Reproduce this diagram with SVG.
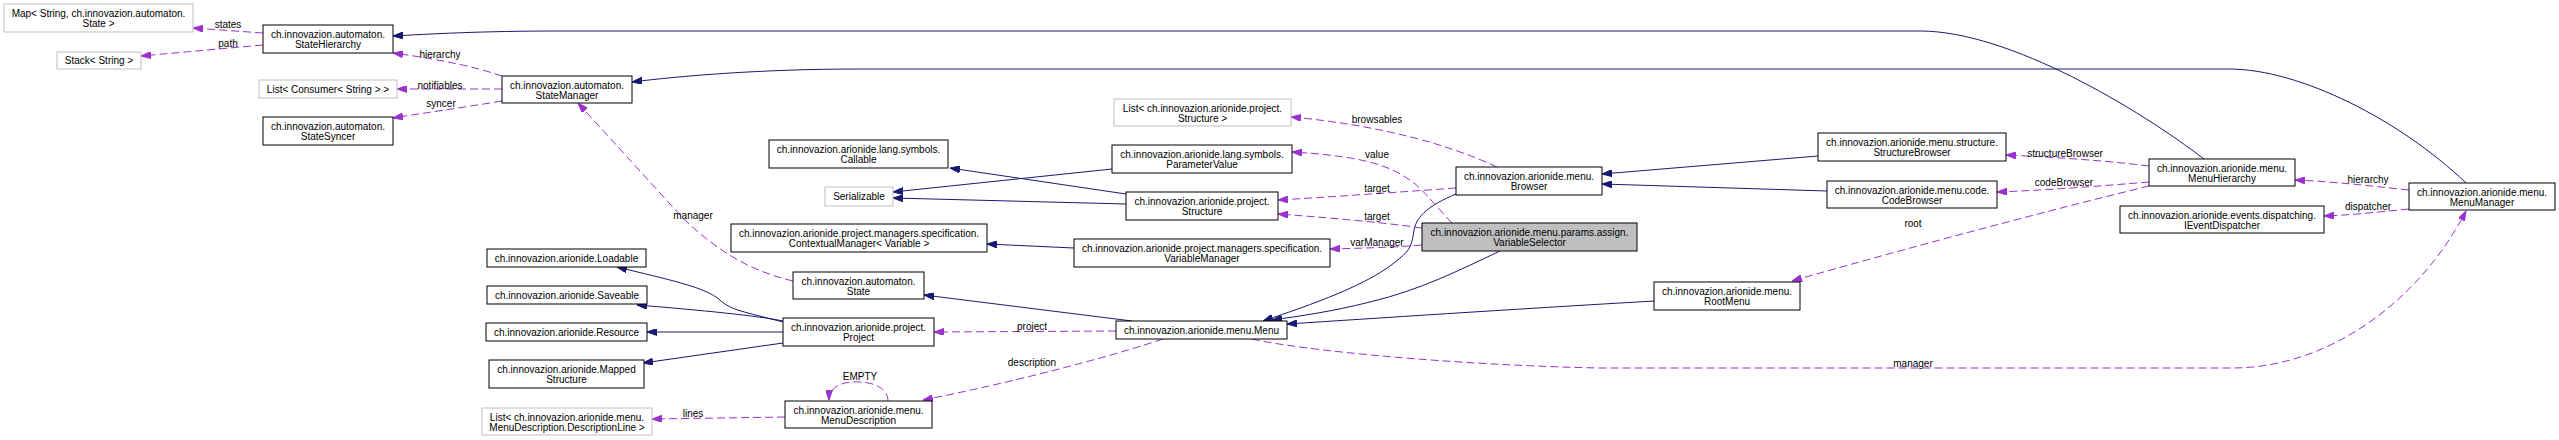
<svg xmlns="http://www.w3.org/2000/svg" width="2559" height="440" viewBox="0 0 2559 440">
<style>
.nd rect{fill:#fff;stroke:#000;stroke-width:1}
.gy rect{fill:#fff;stroke:#bfbfbf;stroke-width:1}
.cur rect{fill:#bfbfbf;stroke:#000;stroke-width:1}
text{font-family:"Liberation Sans",Arial,sans-serif;font-size:10px;fill:#000;text-anchor:middle}
.inh{fill:none;stroke:#191970;stroke-width:1}
.use{fill:none;stroke:#9a32cd;stroke-width:1;stroke-dasharray:8,4}
</style>
<defs>
<marker id="an" viewBox="0 0 10 7" refX="10" refY="3.5" markerWidth="10" markerHeight="7" markerUnits="userSpaceOnUse" orient="auto"><path d="M0,0 L10,3.5 L0,7 z" fill="#191970" stroke="#191970"/></marker>
<marker id="ap" viewBox="0 0 10 7" refX="10" refY="3.5" markerWidth="10" markerHeight="7" markerUnits="userSpaceOnUse" orient="auto"><path d="M0,0 L10,3.5 L0,7 z" fill="#9a32cd" stroke="#9a32cd"/></marker>
</defs>
<rect width="2559" height="440" fill="#fff"/>
<g id="edges">
<path class="inh" marker-end="url(#an)" d="M2204,159 C2140,110 2010,31 1920,31 L560,31 C480,31 430,34 393,36"/>
<path class="inh" marker-end="url(#an)" d="M2466,183 C2400,120 2300,69 2229,69 L860,69 C760,69 680,76 632,82"/>
<path class="inh" marker-end="url(#an)" d="M1126,194 L950,168"/>
<path class="inh" marker-end="url(#an)" d="M1112,169 L893,192"/>
<path class="inh" marker-end="url(#an)" d="M1126,204 L893,198"/>
<path class="inh" marker-end="url(#an)" d="M1074,248 L987,244"/>
<path class="inh" marker-end="url(#an)" d="M1132,321 L924,295"/>
<path class="inh" marker-end="url(#an)" d="M783,322 C745,312 730,310 720,300 C705,287 670,280 617,267"/>
<path class="inh" marker-end="url(#an)" d="M783,321 C760,316 700,310 637,305"/>
<path class="inh" marker-end="url(#an)" d="M783,332 L647,332"/>
<path class="inh" marker-end="url(#an)" d="M783,343 L643,363"/>
<path class="inh" marker-end="url(#an)" d="M1456,194 C1430,205 1417,215 1414,230 C1412,245 1410,250 1400,258 C1370,285 1310,305 1263,321"/>
<path class="inh" marker-end="url(#an)" d="M1500,251 C1460,270 1420,290 1370,302 C1330,312 1300,316 1272,320"/>
<path class="inh" marker-end="url(#an)" d="M1654,301 C1500,310 1380,318 1287,324"/>
<path class="inh" marker-end="url(#an)" d="M1818,156 L1602,174"/>
<path class="inh" marker-end="url(#an)" d="M1827,191 L1602,184"/>
<path class="use" marker-end="url(#ap)" d="M263,33 L193,28"/>
<path class="use" marker-end="url(#ap)" d="M263,45 L141,56"/>
<path class="use" marker-end="url(#ap)" d="M502,76 C470,65 430,58 393,53"/>
<path class="use" marker-end="url(#ap)" d="M502,89 L397,89"/>
<path class="use" marker-end="url(#ap)" d="M502,101 C460,108 430,112 393,118"/>
<path class="use" marker-end="url(#ap)" d="M793,281 C745,270 710,245 680,215 L578,103"/>
<path class="use" marker-end="url(#ap)" d="M1497,167 C1450,145 1380,125 1291,117"/>
<path class="use" marker-end="url(#ap)" d="M1452,223 C1430,200 1420,185 1405,177 C1380,160 1340,155 1292,152"/>
<path class="use" marker-end="url(#ap)" d="M1456,188 C1400,192 1330,197 1278,200"/>
<path class="use" marker-end="url(#ap)" d="M1422,228 C1380,222 1320,217 1278,214"/>
<path class="use" marker-end="url(#ap)" d="M1422,245 C1400,247 1370,248 1330,249"/>
<path class="use" marker-end="url(#ap)" d="M1116,331 L934,332"/>
<path class="use" marker-end="url(#ap)" d="M1163,339 C1100,360 1000,385 923,400"/>
<path class="use" marker-end="url(#ap)" d="M888,401 C888,392 880,383 860,382 C840,381 829,388 829,400"/>
<path class="use" marker-end="url(#ap)" d="M785,417 L652,419"/>
<path class="use" marker-end="url(#ap)" d="M1252,339 C1300,350 1450,365 1600,368 L2232,368 C2330,368 2420,300 2466,211"/>
<path class="use" marker-end="url(#ap)" d="M2149,166 C2100,160 2050,157 2006,155"/>
<path class="use" marker-end="url(#ap)" d="M2149,182 C2100,186 2050,190 1997,192"/>
<path class="use" marker-end="url(#ap)" d="M2149,186 C2050,210 1900,250 1792,281"/>
<path class="use" marker-end="url(#ap)" d="M2409,190 C2370,186 2340,182 2295,180"/>
<path class="use" marker-end="url(#ap)" d="M2409,209 C2370,213 2350,215 2324,216"/>
<text x="228" y="27.5">states</text>
<text x="228" y="46.5">path</text>
<text x="440" y="57.5">hierarchy</text>
<text x="440" y="88.5">notifiables</text>
<text x="441" y="106.5">syncer</text>
<text x="693" y="218.5">manager</text>
<text x="1377" y="122.5">browsables</text>
<text x="1377" y="157.5">value</text>
<text x="1377" y="191.5">target</text>
<text x="1377" y="219.5">target</text>
<text x="1377" y="245.5">varManager</text>
<text x="1032" y="329.5">project</text>
<text x="1032" y="365.5">description</text>
<text x="860" y="380">EMPTY</text>
<text x="693" y="416.5">lines</text>
<text x="1913" y="366.5">manager</text>
<text x="2065" y="156.5">structureBrowser</text>
<text x="2064" y="185.5">codeBrowser</text>
<text x="1913" y="226.5">root</text>
<text x="2368" y="182.5">hierarchy</text>
<text x="2368" y="209.5">dispatcher</text>
</g>
<g id="n_map" class="gy"><rect x="4" y="4" width="189" height="28"/><text x="98.5" y="17">Map&lt; String, ch.innovazion.automaton.</text><text x="98.5" y="27">State &gt;</text></g>
<g id="n_stack" class="gy"><rect x="57" y="52" width="84" height="17"/><text x="99" y="64">Stack&lt; String &gt;</text></g>
<g id="n_statehierarchy" class="nd"><rect x="263" y="25" width="130" height="28"/><text x="328" y="38">ch.innovazion.automaton.</text><text x="328" y="48">StateHierarchy</text></g>
<g id="n_listconsumer" class="gy"><rect x="259" y="80" width="138" height="18"/><text x="328" y="92.5">List&lt; Consumer&lt; String &gt; &gt;</text></g>
<g id="n_statesyncer" class="nd"><rect x="263" y="117" width="130" height="28"/><text x="328" y="130">ch.innovazion.automaton.</text><text x="328" y="140">StateSyncer</text></g>
<g id="n_statemanager" class="nd"><rect x="502" y="76" width="130" height="27"/><text x="567" y="89">ch.innovazion.automaton.</text><text x="567" y="99">StateManager</text></g>
<g id="n_callable" class="nd"><rect x="769" y="140" width="179" height="28"/><text x="858.5" y="153">ch.innovazion.arionide.lang.symbols.</text><text x="858.5" y="163">Callable</text></g>
<g id="n_serializable" class="gy"><rect x="825" y="187" width="68" height="19"/><text x="859" y="200">Serializable</text></g>
<g id="n_liststructure" class="gy"><rect x="1114" y="99" width="177" height="27"/><text x="1202.5" y="112">List&lt; ch.innovazion.arionide.project.</text><text x="1202.5" y="122">Structure &gt;</text></g>
<g id="n_parametervalue" class="nd"><rect x="1112" y="145" width="180" height="28"/><text x="1202" y="158">ch.innovazion.arionide.lang.symbols.</text><text x="1202" y="168">ParameterValue</text></g>
<g id="n_structure" class="nd"><rect x="1126" y="192" width="152" height="28"/><text x="1202" y="205">ch.innovazion.arionide.project.</text><text x="1202" y="215">Structure</text></g>
<g id="n_browser" class="nd"><rect x="1456" y="167" width="146" height="28"/><text x="1529" y="180">ch.innovazion.arionide.menu.</text><text x="1529" y="190">Browser</text></g>
<g id="n_structurebrowser" class="nd"><rect x="1818" y="133" width="188" height="28"/><text x="1912" y="146">ch.innovazion.arionide.menu.structure.</text><text x="1912" y="156">StructureBrowser</text></g>
<g id="n_codebrowser" class="nd"><rect x="1827" y="181" width="170" height="27"/><text x="1912" y="194">ch.innovazion.arionide.menu.code.</text><text x="1912" y="204">CodeBrowser</text></g>
<g id="n_menuhierarchy" class="nd"><rect x="2149" y="159" width="146" height="27"/><text x="2222" y="172">ch.innovazion.arionide.menu.</text><text x="2222" y="182">MenuHierarchy</text></g>
<g id="n_ieventdispatcher" class="nd"><rect x="2120" y="206" width="204" height="27"/><text x="2222" y="219">ch.innovazion.arionide.events.dispatching.</text><text x="2222" y="229">IEventDispatcher</text></g>
<g id="n_menumanager" class="nd"><rect x="2409" y="183" width="146" height="27"/><text x="2482" y="196">ch.innovazion.arionide.menu.</text><text x="2482" y="206">MenuManager</text></g>
<g id="n_contextualmanager" class="nd"><rect x="731" y="224" width="256" height="28"/><text x="859" y="237">ch.innovazion.arionide.project.managers.specification.</text><text x="859" y="247">ContextualManager&lt; Variable &gt;</text></g>
<g id="n_variablemanager" class="nd"><rect x="1074" y="239" width="256" height="28"/><text x="1202" y="252">ch.innovazion.arionide.project.managers.specification.</text><text x="1202" y="262">VariableManager</text></g>
<g id="n_variableselector" class="cur"><rect x="1422" y="223" width="215" height="28"/><text x="1529.5" y="236">ch.innovazion.arionide.menu.params.assign.</text><text x="1529.5" y="246">VariableSelector</text></g>
<g id="n_loadable" class="nd"><rect x="487" y="249" width="159" height="18"/><text x="566.5" y="261.5">ch.innovazion.arionide.Loadable</text></g>
<g id="n_saveable" class="nd"><rect x="487" y="286" width="160" height="18"/><text x="567" y="298.5">ch.innovazion.arionide.Saveable</text></g>
<g id="n_resource" class="nd"><rect x="486" y="323" width="161" height="18"/><text x="566.5" y="335.5">ch.innovazion.arionide.Resource</text></g>
<g id="n_mappedstructure" class="nd"><rect x="489" y="360" width="155" height="28"/><text x="566.5" y="373">ch.innovazion.arionide.Mapped</text><text x="566.5" y="383">Structure</text></g>
<g id="n_listdescline" class="gy"><rect x="482" y="408" width="170" height="27"/><text x="567" y="421">List&lt; ch.innovazion.arionide.menu.</text><text x="567" y="431">MenuDescription.DescriptionLine &gt;</text></g>
<g id="n_state" class="nd"><rect x="793" y="272" width="131" height="27"/><text x="858.5" y="285">ch.innovazion.automaton.</text><text x="858.5" y="295">State</text></g>
<g id="n_project" class="nd"><rect x="783" y="318" width="151" height="28"/><text x="858.5" y="331">ch.innovazion.arionide.project.</text><text x="858.5" y="341">Project</text></g>
<g id="n_menudescription" class="nd"><rect x="785" y="401" width="147" height="27"/><text x="858.5" y="414">ch.innovazion.arionide.menu.</text><text x="858.5" y="424">MenuDescription</text></g>
<g id="n_menu" class="nd"><rect x="1116" y="321" width="171" height="18"/><text x="1201.5" y="333.5">ch.innovazion.arionide.menu.Menu</text></g>
<g id="n_rootmenu" class="nd"><rect x="1654" y="282" width="146" height="28"/><text x="1727" y="295">ch.innovazion.arionide.menu.</text><text x="1727" y="305">RootMenu</text></g>
</svg>
